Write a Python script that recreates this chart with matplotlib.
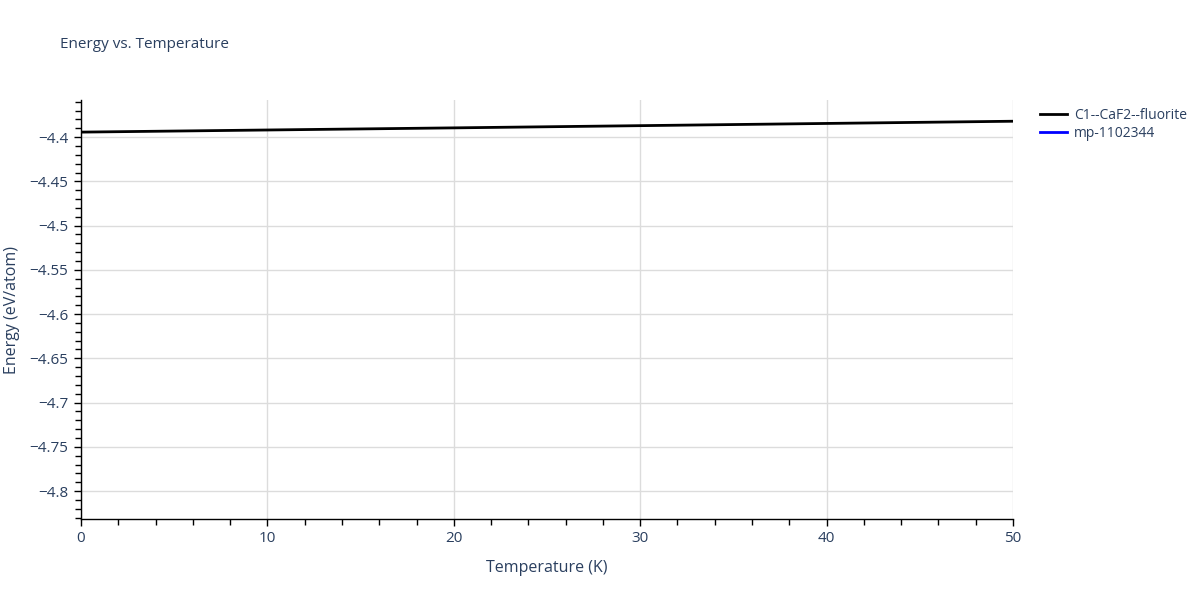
import matplotlib
matplotlib.use("Agg")
import matplotlib.pyplot as plt
from matplotlib.ticker import MultipleLocator, FuncFormatter

# data
temps = [0, 10, 20, 30, 40, 50]
energy_fluorite = [-4.3943, -4.3919, -4.3895, -4.3870, -4.3845, -4.3820]
# second trace shows only in the legend
temps_mp = []
energy_mp = []

TXT = "#2a3f5f"
plt.rcParams["font.family"] = ["Open Sans", "DejaVu Sans"]

fig = plt.figure(figsize=(12, 6), dpi=100)
ax = fig.add_axes([81 / 1200, 1 - 519 / 600, (1013 - 81) / 1200, (519 - 100) / 600])

ax.plot(temps, energy_fluorite, color="black", lw=2, label="C1--CaF2--fluorite", zorder=3)
ax.plot(temps_mp, energy_mp, color="blue", lw=2, label="mp-1102344", zorder=2)

ax.set_xlim(0, 50)
ax.set_ylim(-4.8316, -4.358)

ax.xaxis.set_major_locator(MultipleLocator(10))
ax.xaxis.set_minor_locator(MultipleLocator(2))
ax.yaxis.set_major_locator(MultipleLocator(0.05))
ax.yaxis.set_minor_locator(MultipleLocator(0.01))
ax.yaxis.set_major_formatter(FuncFormatter(lambda v, p: ("%g" % round(v, 3)).replace("-", "\u2212")))

ax.grid(True, which="major", color="#dcdcdc", lw=1)
ax.set_axisbelow(True)
for s in ["top", "right"]:
    ax.spines[s].set_visible(False)
for s in ["left", "bottom"]:
    ax.spines[s].set_color("black")
    ax.spines[s].set_linewidth(1)

ax.tick_params(which="major", direction="out", length=5, width=1, color="black",
               labelsize=11, labelcolor=TXT, pad=4)
ax.tick_params(which="minor", direction="out", length=4, width=1, color="black")

ax.set_xlabel("Temperature (K)", fontsize=11.5, color=TXT, labelpad=10)
ax.set_ylabel("Energy (eV/atom)", fontsize=11.5, color=TXT)
ax.yaxis.set_label_coords(-61 / 932, 0.5)

fig.text(60 / 1200, 1 - 45 / 600, "Energy vs. Temperature", fontsize=11, color=TXT,
         va="center", ha="left")

fig.legend(loc="upper left", bbox_to_anchor=(1034 / 1200, 1 - 102 / 600), frameon=False,
           fontsize=10, labelcolor=TXT, handlelength=2.0, handletextpad=0.5,
           borderaxespad=0, labelspacing=0.25)

fig.savefig("out.png", dpi=100)
